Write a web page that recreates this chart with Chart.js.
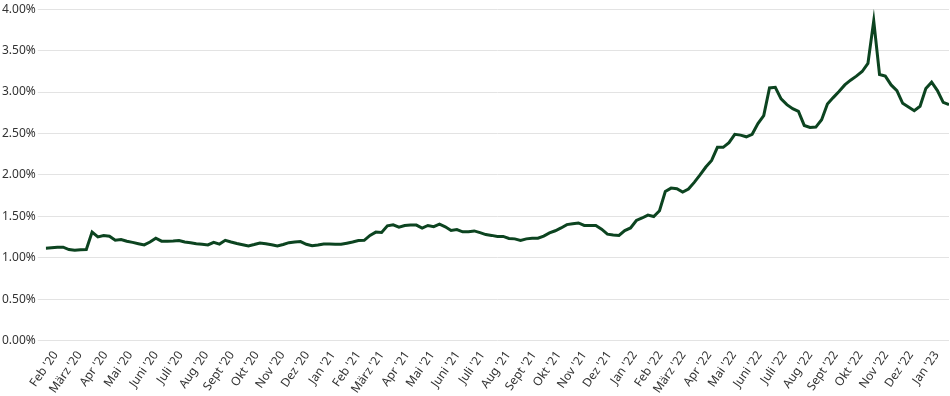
<!DOCTYPE html>
<html>
<head>
<meta charset="utf-8">
<script src="https://cdn.jsdelivr.net/npm/chart.js@4"></script>
<style>
  html, body { margin: 0; padding: 0; background: #fff; }
  #wrap { width: 950px; height: 396px; }
</style>
</head>
<body>
<div id="wrap"><canvas id="ratechart"></canvas></div>
<script>
// weekly values in %, first week starts 2020-01-20
var startdate = [2020, 0, 20]
var rates = [
  1.114, 1.122, 1.128, 1.128, 1.099, 1.09, 1.098, 1.10, 1.31, 1.252,
  1.268, 1.26, 1.211, 1.22, 1.20, 1.186, 1.17, 1.155, 1.19, 1.236,
  1.20, 1.20, 1.202, 1.207, 1.19, 1.18, 1.17, 1.162, 1.155, 1.187,
  1.165, 1.211, 1.19, 1.173, 1.158, 1.143, 1.16, 1.179, 1.17, 1.158,
  1.143, 1.16, 1.182, 1.19, 1.195, 1.163, 1.145, 1.155, 1.167, 1.165,
  1.163, 1.163, 1.176, 1.19, 1.207, 1.211, 1.27, 1.31, 1.305, 1.385,
  1.398, 1.37, 1.39, 1.394, 1.394, 1.358, 1.39, 1.376, 1.405, 1.374,
  1.33, 1.34, 1.313, 1.313, 1.324, 1.303, 1.28, 1.27, 1.258, 1.258,
  1.233, 1.228, 1.208, 1.228, 1.236, 1.236, 1.262, 1.30, 1.326, 1.36,
  1.40, 1.41, 1.42, 1.39, 1.39, 1.39, 1.345, 1.285, 1.275, 1.27,
  1.329, 1.36, 1.45, 1.48, 1.515, 1.498, 1.567, 1.80, 1.841, 1.833,
  1.792, 1.829, 1.91, 2.0, 2.095, 2.175, 2.333, 2.333, 2.39, 2.49,
  2.48, 2.46, 2.49, 2.62, 2.715, 3.05, 3.058, 2.917, 2.848, 2.80,
  2.767, 2.597, 2.573, 2.577, 2.666, 2.856, 2.933, 3.006, 3.086, 3.143,
  3.192, 3.248, 3.345, 3.859, 3.212, 3.192, 3.086, 3.018, 2.864, 2.82,
  2.775, 2.828, 3.042, 3.119, 3.018, 2.876, 2.848
]
var monthlabels = [
  "Feb '20", "März '20", "Apr '20", "Mai '20", "Juni '20", "Juli '20", "Aug '20", "Sept '20", "Okt '20", "Nov '20", "Dez '20",
  "Jan '21", "Feb '21", "März '21", "Apr '21", "Mai '21", "Juni '21", "Juli '21", "Aug '21", "Sept '21", "Okt '21", "Nov '21", "Dez '21",
  "Jan '22", "Feb '22", "März '22", "Apr '22", "Mai '22", "Juni '22", "Juli '22", "Aug '22", "Sept '22", "Okt '22", "Nov '22", "Dez '22",
  "Jan '23"
]
var firstmonth = [2020, 1]

var t0 = Date.UTC(startdate[0], startdate[1], startdate[2])
var points = []
for (var i = 0; i < rates.length; i++) {
    points.push({x: i * 7, y: rates[i]})
}
var monthticks = []
for (var k = 0; k < monthlabels.length; k++) {
    var d = Date.UTC(firstmonth[0], firstmonth[1] + k, 1)
    monthticks.push({value: (d - t0) / 86400000})
}

Chart.defaults.font.family = "'Noto Sans', sans-serif"
Chart.defaults.font.size = 12
Chart.defaults.color = '#333333'

var ctx = document.getElementById('ratechart').getContext('2d');
var myChart = new Chart(ctx, {
    type: 'line',
    data: {
        datasets: [{
            data: points,
            borderColor: '#0c4420',
            borderWidth: 3,
            pointRadius: 0,
            tension: 0,
            fill: false
        }]
    },
    options: {
        responsive: true,
        maintainAspectRatio: false,
        animation: false,
        layout: { padding: { top: 3, right: 1, left: 0, bottom: 0 } },
        plugins: {
            legend: { display: false },
            tooltip: { enabled: false }
        },
        scales: {
            x: {
                type: 'linear',
                min: 0,
                max: (rates.length - 1) * 7,
                afterBuildTicks: function (axis) { axis.ticks = monthticks.slice() },
                grid: { display: false },
                border: { display: false },
                ticks: {
                    autoSkip: false,
                    maxRotation: 55,
                    minRotation: 55,
                    padding: 0,
                    callback: function (v, idx) { return monthlabels[idx] }
                }
            },
            y: {
                min: 0,
                max: 4,
                grid: { color: '#e3e3e3', lineWidth: 1 },
                border: { display: false },
                ticks: {
                    stepSize: 0.5,
                    padding: 2,
                    callback: function (v) { return v.toFixed(2) + '%' }
                }
            }
        }
    }
});
</script>
</body>
</html>
